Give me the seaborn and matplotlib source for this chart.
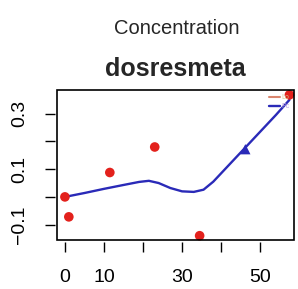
import numpy as np
import pandas as pd
import matplotlib
matplotlib.use("Agg")
import matplotlib.pyplot as plt
import seaborn as sns
from matplotlib.patches import Rectangle

# observed points (red)
obs_x = [0, 1, 11.5, 23, 34.5, 57.5]
obs_y = [0.0, -0.072, 0.088, 0.18, -0.14, 0.368]

# fitted curve (blue)
fit_x = [0, 5, 10, 15, 19, 21.5, 24, 27, 30, 33, 35.5, 38, 42, 46, 50, 54, 57.5]
fit_y = [0.0, 0.014, 0.029, 0.043, 0.054, 0.058, 0.05, 0.032, 0.02, 0.018, 0.026, 0.055, 0.115, 0.175, 0.235, 0.295, 0.35]

# single blue triangle
tri_x = [46.2]
tri_y = [0.172]

sns.set_style("white")
plt.rcParams['font.family'] = ['Liberation Sans', 'DejaVu Sans']

fig = plt.figure(figsize=(2.98, 2.89), dpi=100)
ax = fig.add_axes([0.191, 0.170, 0.796, 0.519])

sns.lineplot(x=fit_x, y=fit_y, ax=ax, color="#2a2ab8", lw=1.7, sort=False, label="Lo")
sns.scatterplot(x=obs_x, y=obs_y, ax=ax, color="#e3211c", s=48, edgecolor="none", zorder=3, clip_on=False)
sns.scatterplot(x=tri_x, y=tri_y, ax=ax, color="#2a2ab8", marker="^", s=55, edgecolor="none", zorder=3)
ax.plot([], [], color="#d9866e", lw=1.5, label="Pc")

h, l = ax.get_legend_handles_labels()
leg = ax.legend([h[1], h[0]], ["Lo", "Pc"], loc="upper right", fontsize=5, frameon=False,
                handlelength=1.6, borderaxespad=0.2, labelspacing=0.3, handletextpad=0.3)
for t, c in zip(leg.get_texts(), ["#d8c890", "#b8a0e0"]):
    t.set_color(c)

ax.set_xlim(-2.05, 58.7)
ax.set_ylim(-0.155, 0.386)
ax.set_xticks([0, 10, 20, 30, 40, 50])
ax.set_xticklabels(["0", "10", "", "30", "", "50"])
ax.set_yticks([-0.1, 0.0, 0.1, 0.2, 0.3])
ax.set_yticklabels(["\u22120.1", "", "0.1", "", "0.3"])

for s in ["left", "bottom"]:
    ax.spines[s].set_position(("outward", 1.5))
    ax.spines[s].set_visible(False)
for s in ["top", "right"]:
    ax.spines[s].set_visible(False)
ax.add_patch(Rectangle((0, 0), 1, 1, transform=ax.transAxes, fill=False,
                       lw=1.2, edgecolor="black", clip_on=False, zorder=5))

ax.tick_params(axis="both", which="both", direction="out", length=7.5, width=1,
               colors="black", labelsize=14, left=True, bottom=True)
ax.tick_params(axis="y", pad=12, labelrotation=90)
for t in ax.get_yticklabels():
    t.set_va("center")
ax.tick_params(axis="x", pad=12)

ax.set_title("dosresmeta", fontsize=18, fontweight="bold", pad=10)
fig.text(0.593, 0.903, "Concentration", ha="center", va="center", fontsize=14.5)

fig.savefig("out.png", dpi=100)
